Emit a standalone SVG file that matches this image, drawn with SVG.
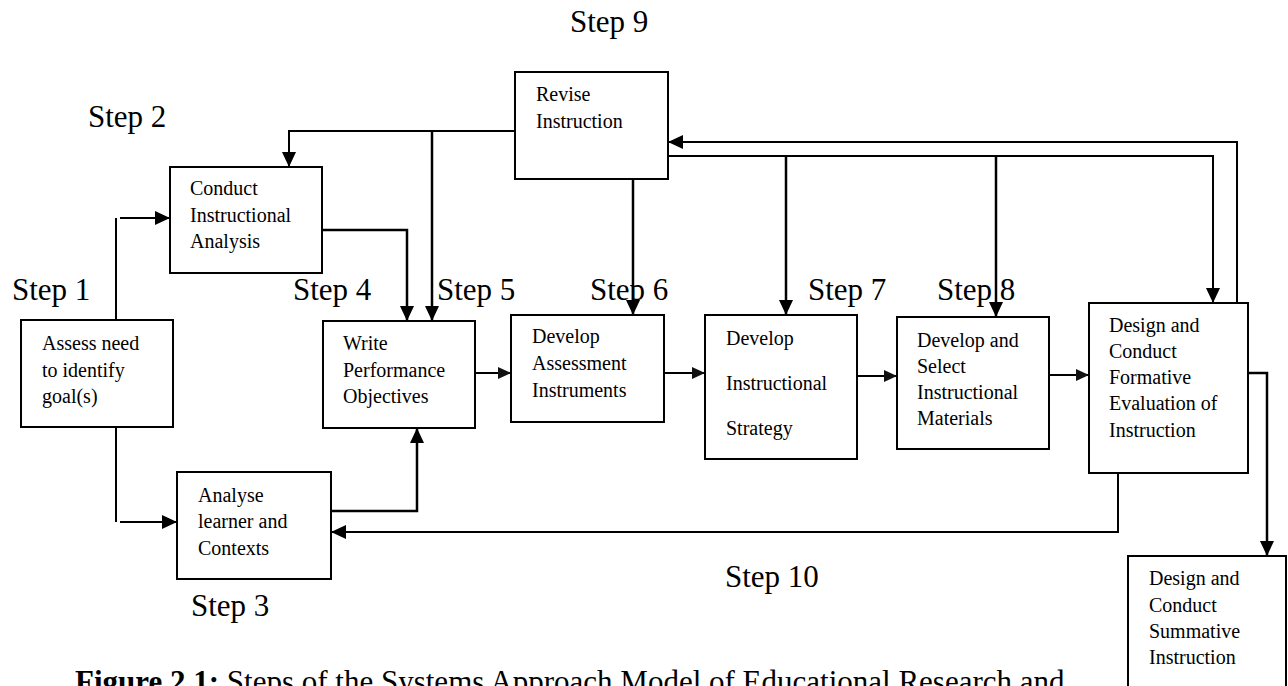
<svg xmlns="http://www.w3.org/2000/svg" width="1288" height="686" viewBox="0 0 1288 686">
<style>
.box{fill:#fff;stroke:#000;stroke-width:2}
.t{font-family:"Liberation Serif","Times New Roman",serif;font-size:20px;fill:#000}
.s{font-family:"Liberation Serif","Times New Roman",serif;font-size:31px;fill:#000}
.c{fill:none;stroke:#000;stroke-width:2}
.cb{fill:none;stroke:#000;stroke-width:2.5}
</style>
<defs>
<marker id="ah" markerUnits="userSpaceOnUse" markerWidth="15" markerHeight="14" refX="15" refY="7" orient="auto" viewBox="0 0 15 14">
<path d="M0,0 L15,7 L0,14 z" fill="#000"/>
</marker>
<marker id="ahs" markerUnits="userSpaceOnUse" markerWidth="13" markerHeight="12" refX="13" refY="6" orient="auto" viewBox="0 0 13 12">
<path d="M0,0 L13,6 L0,12 z" fill="#111"/>
</marker>
</defs>
<rect width="1288" height="686" fill="#fff"/>

<g id="connectors">
<path class="c" d="M116,320 V218"/>
<path class="c" d="M120,218 H170" marker-end="url(#ah)"/>
<path class="c" d="M116,427 V522"/>
<path class="c" d="M120,522 H177" marker-end="url(#ah)"/>
<path class="cb" d="M322,230 H407 V321" marker-end="url(#ah)"/>
<path class="c" d="M517,131 H289 V167" marker-end="url(#ah)"/>
<path class="cb" d="M432,131 V321" marker-end="url(#ah)"/>
<path class="cb" d="M331,511 H417 V428" marker-end="url(#ah)"/>
<path class="c" d="M475,373 H511" marker-end="url(#ahs)"/>
<path class="c" d="M664,373 H705" marker-end="url(#ahs)"/>
<path class="c" d="M857,376 H897" marker-end="url(#ahs)"/>
<path class="c" d="M1049,375 H1089" marker-end="url(#ahs)"/>
<path class="cb" d="M633,179 V315" marker-end="url(#ah)"/>
<path class="c" d="M668,156 H1213 V303" marker-end="url(#ah)"/>
<path class="cb" d="M786,156 V315" marker-end="url(#ah)"/>
<path class="cb" d="M996,156 V317" marker-end="url(#ah)"/>
<path class="c" d="M1237,303 V142 H668" marker-end="url(#ah)"/>
<path class="cb" d="M1248,373 H1267 V556" marker-end="url(#ah)"/>
<path class="c" d="M1118,473 V532 H331" marker-end="url(#ah)"/>
</g>

<g id="assess">
<rect class="box" x="21" y="320" width="152" height="107"/>
<text class="t" x="42" y="350">Assess need</text>
<text class="t" x="42" y="377">to identify</text>
<text class="t" x="42" y="403">goal(s)</text>
</g>
<g id="conduct">
<rect class="box" x="170" y="167" width="152" height="106"/>
<text class="t" x="190" y="195">Conduct</text>
<text class="t" x="190" y="222">Instructional</text>
<text class="t" x="190" y="248">Analysis</text>
</g>
<g id="analyse">
<rect class="box" x="177" y="472" width="154" height="107"/>
<text class="t" x="198" y="502">Analyse</text>
<text class="t" x="198" y="528">learner and</text>
<text class="t" x="198" y="555">Contexts</text>
</g>
<g id="write">
<rect class="box" x="323" y="321" width="152" height="107"/>
<text class="t" x="343" y="350">Write</text>
<text class="t" x="343" y="377">Performance</text>
<text class="t" x="343" y="403">Objectives</text>
</g>
<g id="revise">
<rect class="box" x="515" y="72" width="153" height="107"/>
<text class="t" x="536" y="101">Revise</text>
<text class="t" x="536" y="128">Instruction</text>
</g>
<g id="assessment">
<rect class="box" x="511" y="315" width="153" height="107"/>
<text class="t" x="532" y="343">Develop</text>
<text class="t" x="532" y="370">Assessment</text>
<text class="t" x="532" y="397">Instruments</text>
</g>
<g id="strategy">
<rect class="box" x="705" y="315" width="152" height="144"/>
<text class="t" x="726" y="345">Develop</text>
<text class="t" x="726" y="390">Instructional</text>
<text class="t" x="726" y="435">Strategy</text>
</g>
<g id="materials">
<rect class="box" x="897" y="317" width="152" height="132"/>
<text class="t" x="917" y="347">Develop and</text>
<text class="t" x="917" y="373">Select</text>
<text class="t" x="917" y="399">Instructional</text>
<text class="t" x="917" y="425">Materials</text>
</g>
<g id="formative">
<rect class="box" x="1089" y="303" width="159" height="170"/>
<text class="t" x="1109" y="332">Design and</text>
<text class="t" x="1109" y="358">Conduct</text>
<text class="t" x="1109" y="384">Formative</text>
<text class="t" x="1109" y="410">Evaluation of</text>
<text class="t" x="1109" y="437">Instruction</text>
</g>
<g id="summative">
<rect class="box" x="1128" y="556" width="158" height="160"/>
<text class="t" x="1149" y="585">Design and</text>
<text class="t" x="1149" y="612">Conduct</text>
<text class="t" x="1149" y="638">Summative</text>
<text class="t" x="1149" y="664">Instruction</text>
</g>

<g id="labels">
<text class="s" x="12" y="300">Step 1</text>
<text class="s" x="88" y="127">Step 2</text>
<text class="s" x="191" y="616">Step 3</text>
<text class="s" x="293" y="300">Step 4</text>
<text class="s" x="437" y="300">Step 5</text>
<text class="s" x="590" y="300">Step 6</text>
<text class="s" x="808" y="300">Step 7</text>
<text class="s" x="937" y="300">Step 8</text>
<text class="s" x="570" y="32">Step 9</text>
<text class="s" x="725" y="587">Step 10</text>
<text class="s" x="75" y="692"><tspan font-weight="bold">Figure 2.1:</tspan> Steps of the Systems Approach Model of Educational Research and</text>
</g>
</svg>
